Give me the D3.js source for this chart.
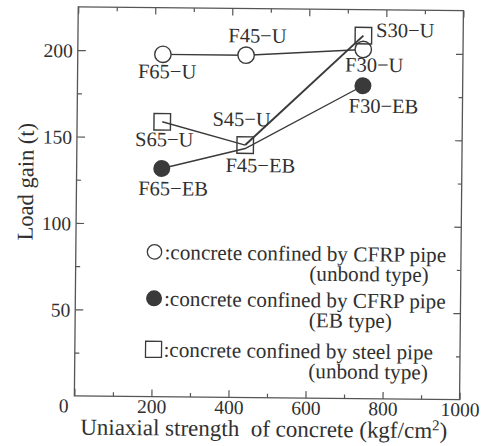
<!DOCTYPE html>
<html>
<head>
<meta charset="utf-8">
<script src="https://cdn.jsdelivr.net/npm/d3@7"></script>
<style>
  html, body { margin: 0; padding: 0; background: #fff; }
  svg { display: block; }
</style>
</head>
<body>
<svg id="chart" width="487" height="446"></svg>
<script>
// Uniaxial strength of concrete (kgf/cm2) for the three mix groups
const strength = [221, 437, 741];

// Load gain (t) per confinement type
const cfrpUnbond = [198, 198, 202];
const cfrpEB = [132, 144, 181];
const steelUnbond = [159, 146, 210];

// Specimen names
const cfrpUnbondNames = ["F65\u2212U", "F45\u2212U", "F30\u2212U"];
const cfrpEBNames = ["F65\u2212EB", "F45\u2212EB", "F30\u2212EB"];
const steelUnbondNames = ["S65\u2212U", "S45\u2212U", "S30\u2212U"];
// EB marker is hidden behind the steel square at the middle point
const cfrpEBMarker = [true, false, true];

// Axis ticks
const xTicks = [0, 200, 400, 600, 800, 1000];
const xMinor = [100, 300, 500, 700, 900];
const yTicks = [50, 100, 150, 200];
const yMinor = [25, 75, 125, 175];

// Legend entries
const legendLines = [
  [":concrete confined by CFRP pipe", "(unbond type)"],
  [":concrete confined by CFRP pipe", "(EB type)"],
  [":concrete confined by steel pipe", "(unbond type)"]
];

// ---- layout ----
const FONT = '"Liberation Serif", "Times New Roman", Times, serif';
const box = { left: 76.3, right: 461.5, top: 8.75, bottom: 397.75 };
const ink = "#3a3a3a";
const textInk = "#303030";
const svg = d3.select("#chart");
const root = svg.append("g")
  .attr("transform", "rotate(0.57, 268.9, 203.25)")
  .style("font-family", FONT);

const x = d3.scaleLinear().domain([0, 1000]).range([box.left, box.right]);
const y = d3.scaleLinear().domain([0, 225]).range([box.bottom, box.top]);

// frame
root.append("rect")
  .attr("x", box.left).attr("y", box.top)
  .attr("width", box.right - box.left).attr("height", box.bottom - box.top)
  .attr("fill", "none").attr("stroke", "#555").attr("stroke-width", 1.3);

function tickAxis(axisFn, scale, values, size, pos, labels) {
  const a = axisFn(scale).tickValues(values).tickSizeInner(-size).tickSizeOuter(0)
    .tickFormat(labels ? d3.format("d") : "");
  const g = root.append("g").attr("transform", pos).call(a);
  g.attr("font-family", null).attr("font-size", null);
  g.select(".domain").remove();
  g.selectAll(".tick line").attr("stroke", "#555").attr("stroke-width", 1.2);
  g.selectAll(".tick text")
    .style("font-family", FONT).style("font-size", "19.5px").attr("fill", textInk);
  return g;
}

// bottom
const xb = tickAxis(d3.axisBottom, x, xTicks, 7, `translate(0,${box.bottom})`, true);
xb.selectAll(".tick text")
  .attr("y", 16.5).attr("dy", 0)
  .attr("dx", d => d === 0 ? -11 : 0);
tickAxis(d3.axisBottom, x, xMinor, 4, `translate(0,${box.bottom})`, false);
// top
tickAxis(d3.axisTop, x, xTicks, 7, `translate(0,${box.top})`, false);
tickAxis(d3.axisTop, x, xMinor, 4, `translate(0,${box.top})`, false);
// left (the origin "0" is shared with the bottom axis)
const yl = tickAxis(d3.axisLeft, y, yTicks, 8, `translate(${box.left},0)`, true);
yl.selectAll(".tick text").attr("x", -5).attr("dy", "0.35em");
tickAxis(d3.axisLeft, y, yMinor, 4.5, `translate(${box.left},0)`, false);
// right
tickAxis(d3.axisRight, y, yTicks, 7, `translate(${box.right},0)`, false);
tickAxis(d3.axisRight, y, yMinor, 4, `translate(${box.right},0)`, false);

// axis titles
const xt = root.append("text")
  .attr("x", 266).attr("y", 436.5)
  .attr("text-anchor", "middle").attr("fill", textInk)
  .style("font-size", "23px");
xt.append("tspan").text("Uniaxial strength\u00a0 of concrete (kgf/cm");
xt.append("tspan").text("2").attr("dy", -8).style("font-size", "15px");
xt.append("tspan").text(")").attr("dy", 8);

root.append("text")
  .attr("transform", "translate(33,184) rotate(-90)")
  .attr("text-anchor", "middle").attr("fill", textInk)
  .style("font-size", "22.5px")
  .text("Load gain (t)");

const line = d3.line().x(d => x(d[0])).y(d => y(d[1]));
const pts = vals => strength.map((s, i) => [s, vals[i]]);

// CFRP unbond series
root.append("path").datum(pts(cfrpUnbond))
  .attr("d", line).attr("fill", "none").attr("stroke", ink).attr("stroke-width", 1.4);
root.selectAll(".cu").data(pts(cfrpUnbond)).join("circle")
  .attr("cx", d => x(d[0])).attr("cy", d => y(d[1])).attr("r", 8.2)
  .attr("fill", "#fff").attr("stroke", ink).attr("stroke-width", 1.4);

// CFRP EB series
root.append("path").datum(pts(cfrpEB))
  .attr("d", line).attr("fill", "none").attr("stroke", ink).attr("stroke-width", 1.4);
root.selectAll(".ce").data(pts(cfrpEB).filter((d, i) => cfrpEBMarker[i])).join("circle")
  .attr("cx", d => x(d[0])).attr("cy", d => y(d[1])).attr("r", 8.5)
  .attr("fill", ink);

// steel unbond series
const sp = pts(steelUnbond);
root.append("path").datum(sp.slice(0, 2))
  .attr("d", line).attr("fill", "none").attr("stroke", ink).attr("stroke-width", 1.4);
root.append("path").datum(sp.slice(1))
  .attr("d", line).attr("fill", "none").attr("stroke", ink).attr("stroke-width", 2);
const sq = 16.5;
root.selectAll(".su").data(sp).join("rect")
  .attr("x", d => x(d[0]) - sq / 2).attr("y", d => y(d[1]) - sq / 2)
  .attr("width", sq).attr("height", sq)
  .attr("fill", "none").attr("stroke", ink).attr("stroke-width", 1.4);

// specimen labels, offset from each point
const labelOffsets = {
  cfrpUnbond: [[-24.7, 23.9], [-18, -12.8], [-18, 22.2]],
  cfrpEB: [[-23.3, 26.8], [-19.5, 23.6], [-14, 27]],
  steelUnbond: [[-27, 24.5], [-33, -19], [12.7, 1.2]]
};
function labels(vals, names, offs) {
  root.selectAll(null).data(pts(vals)).join("text")
    .attr("x", (d, i) => x(d[0]) + offs[i][0])
    .attr("y", (d, i) => y(d[1]) + offs[i][1])
    .attr("fill", textInk)
    .style("font-size", "20.5px")
    .text((d, i) => names[i]);
}
labels(cfrpUnbond, cfrpUnbondNames, labelOffsets.cfrpUnbond);
labels(cfrpEB, cfrpEBNames, labelOffsets.cfrpEB);
labels(steelUnbond, steelUnbondNames, labelOffsets.steelUnbond);

// legend
const legY = [253, 299.5, 350.5];
const legX = 155;
root.append("circle").attr("cx", legX).attr("cy", legY[0]).attr("r", 7.2)
  .attr("fill", "#fff").attr("stroke", ink).attr("stroke-width", 1.3);
root.append("circle").attr("cx", legX).attr("cy", legY[1]).attr("r", 8)
  .attr("fill", ink);
root.append("rect").attr("x", legX - 8).attr("y", legY[2] - 8).attr("width", 16).attr("height", 16)
  .attr("fill", "none").attr("stroke", ink).attr("stroke-width", 1.3);

legendLines.forEach((pair, i) => {
  root.append("text").attr("x", 165).attr("y", legY[i] + 7.3)
    .attr("fill", textInk).style("font-size", "21.2px").text(pair[0]);
  root.append("text").attr("x", 310).attr("y", legY[i] + 27.3)
    .attr("fill", textInk).style("font-size", "21.2px").text(pair[1]);
});
</script>
</body>
</html>
